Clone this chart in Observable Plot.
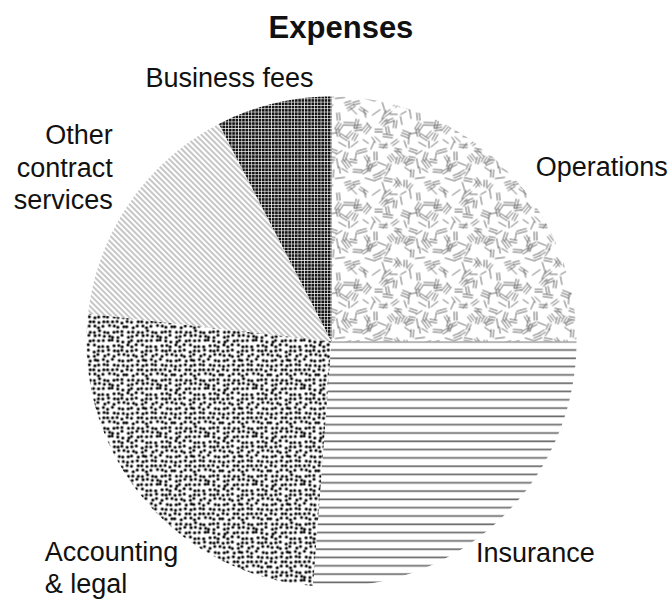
<!DOCTYPE html>
<html><head><meta charset="utf-8">
<script src="https://cdn.jsdelivr.net/npm/d3@7"></script>
<script src="https://cdn.jsdelivr.net/npm/@observablehq/plot@0.6"></script>
<style>
body{margin:0;background:#fff;font-family:"Liberation Sans",Arial,sans-serif;}
#title{height:55px;line-height:55px;text-align:center;font-weight:bold;font-size:31px;padding-left:12px;color:#111;}
</style></head><body>
<div id="title">Expenses</div>
<div id="chart"></div>
<script>
const categories = ["Operations","Insurance","Accounting & legal","Other contract services","Business fees"];
const values = [25, 26.2, 25.6, 15.6, 7.6];
const labels = ["Operations","Insurance","Accounting\n& legal","Other\ncontract\nservices","Business fees"];

const data = categories.map((c,i)=>({name:c, value:values[i], label:labels[i], i}));
const arcs = d3.pie().value(d=>d.value).sort(null)(data);

// slice outlines derived from the pie layout (unit circle, y up)
const pts = [];
arcs.forEach(a=>{
  pts.push({name:a.data.name, x:0, y:0});
  const n = Math.max(2, Math.ceil((a.endAngle-a.startAngle)/(Math.PI/360)));
  for (let k=0;k<=n;k++){
    const t = a.startAngle + (a.endAngle-a.startAngle)*k/n;
    pts.push({name:a.data.name, x:Math.sin(t), y:Math.cos(t)});
  }
});
const mids = arcs.map(a=>{
  const t=(a.startAngle+a.endAngle)/2;
  return {label:a.data.label, x:Math.sin(t), y:Math.cos(t)};
});

// ---- texture patterns (deterministic hash generator, texture only) ----
function mulberry32(a){return function(){a|=0;a=a+0x6D2B79F5|0;let t=Math.imul(a^a>>>15,1|a);t=t+Math.imul(t^t>>>7,61|t)^t;return((t^t>>>14)>>>0)/4294967296;}}
const rand = mulberry32(987654);

function opsPattern(){
  const T=80; let s="";
  const G=8, N=T/G;
  for(let gi=0;gi<N;gi++) for(let gj=0;gj<N;gj++){
    if(rand()<0.25) continue;
    const cx=(gi+0.5)*G+(rand()-0.5)*G, cy=(gj+0.5)*G+(rand()-0.5)*G, ang=rand()*Math.PI;
    const n=1+Math.floor(rand()*2.2), L=6+rand()*4;
    const ux=Math.cos(ang), uy=Math.sin(ang), px=-uy, py=ux;
    for(let j=0;j<n;j++){
      const o=(j-(n-1)/2)*2.6;
      const x0=cx+px*o-ux*L/2, y0=cy+py*o-uy*L/2, x1=cx+px*o+ux*L/2, y1=cy+py*o+uy*L/2;
      for(const ox of [-T,0,T]) for(const oy of [-T,0,T])
        s+=`<line x1="${(x0+ox).toFixed(2)}" y1="${(y0+oy).toFixed(2)}" x2="${(x1+ox).toFixed(2)}" y2="${(y1+oy).toFixed(2)}"/>`;
    }
  }
  return `<pattern id="pat0" patternUnits="userSpaceOnUse" width="${T}" height="${T}"><g stroke="#707070" stroke-width="1" stroke-linecap="round">${s}</g></pattern>`;
}
function dotPattern(){
  const G=4.8, N=10, T=G*N; let s="";
  for(let i=0;i<N;i++) for(let j=0;j<N;j++){
    const x=(i+0.5)*G+(rand()-0.5)*2.4, y=(j+0.5)*G+(rand()-0.5)*2.4;
    for(const ox of [-T,0,T]) for(const oy of [-T,0,T])
      s+=`<circle cx="${(x+ox).toFixed(2)}" cy="${(y+oy).toFixed(2)}" r="1.5"/>`;
  }
  return `<pattern id="pat2" patternUnits="userSpaceOnUse" width="${T}" height="${T}"><g fill="#000">${s}</g></pattern>`;
}
const defsStr =
  opsPattern() +
  `<pattern id="pat1" patternUnits="userSpaceOnUse" width="20" height="8.3"><line x1="0" y1="4" x2="20" y2="4" stroke="#6a6a6a" stroke-width="1.7"/></pattern>` +
  dotPattern() +
  `<pattern id="pat3" patternUnits="userSpaceOnUse" width="10" height="4" patternTransform="rotate(45)"><line x1="0" y1="2" x2="10" y2="2" stroke="#808080" stroke-width="0.9"/></pattern>` +
  `<pattern id="pat4" patternUnits="userSpaceOnUse" width="3.3" height="3.3"><rect width="3.3" height="3.3" fill="#141414"/><line x1="0" y1="0.35" x2="3.3" y2="0.35" stroke="#fff" stroke-width="0.7"/><line x1="0.35" y1="0" x2="0.35" y2="3.3" stroke="#fff" stroke-width="0.7"/></pattern>`;

const labelStyle = [
  {anchor:"start", dx:31, dy:-3},
  {anchor:"start", dx:-22, dy:30},
  {anchor:"start", dx:-98, dy:69},
  {anchor:"end", dx:-17, dy:-36},
  {anchor:"end", dx:40, dy:-27}
];

const sliceMarks = categories.map((c,i)=>
  Plot.line(pts.filter(p=>p.name===c), {x:"x", y:"y", fill:`url(#pat${i})`, stroke:"none"})
);
const labelMarks = mids.map((m,i)=>
  Plot.text([m], {x:"x", y:"y", text:"label", textAnchor:labelStyle[i].anchor, dx:labelStyle[i].dx, dy:labelStyle[i].dy,
    fontSize:27, lineHeight:1.2, fill:"#111", fontFamily:"Liberation Sans, Arial, sans-serif"})
);

const chart = Plot.plot({
  width:670, height:546, margin:0,
  x:{domain:[-1,1], range:[86,576], axis:null},
  y:{domain:[-1,1], range:[531,41], axis:null},
  style:{fontFamily:"Liberation Sans, Arial, sans-serif", background:"#fff"},
  marks:[...sliceMarks, ...labelMarks]
});
const ns="http://www.w3.org/2000/svg";
const defs=document.createElementNS(ns,"defs");
defs.innerHTML=defsStr;
chart.insertBefore(defs, chart.firstChild);
document.getElementById("chart").appendChild(chart);
</script>
</body></html>
